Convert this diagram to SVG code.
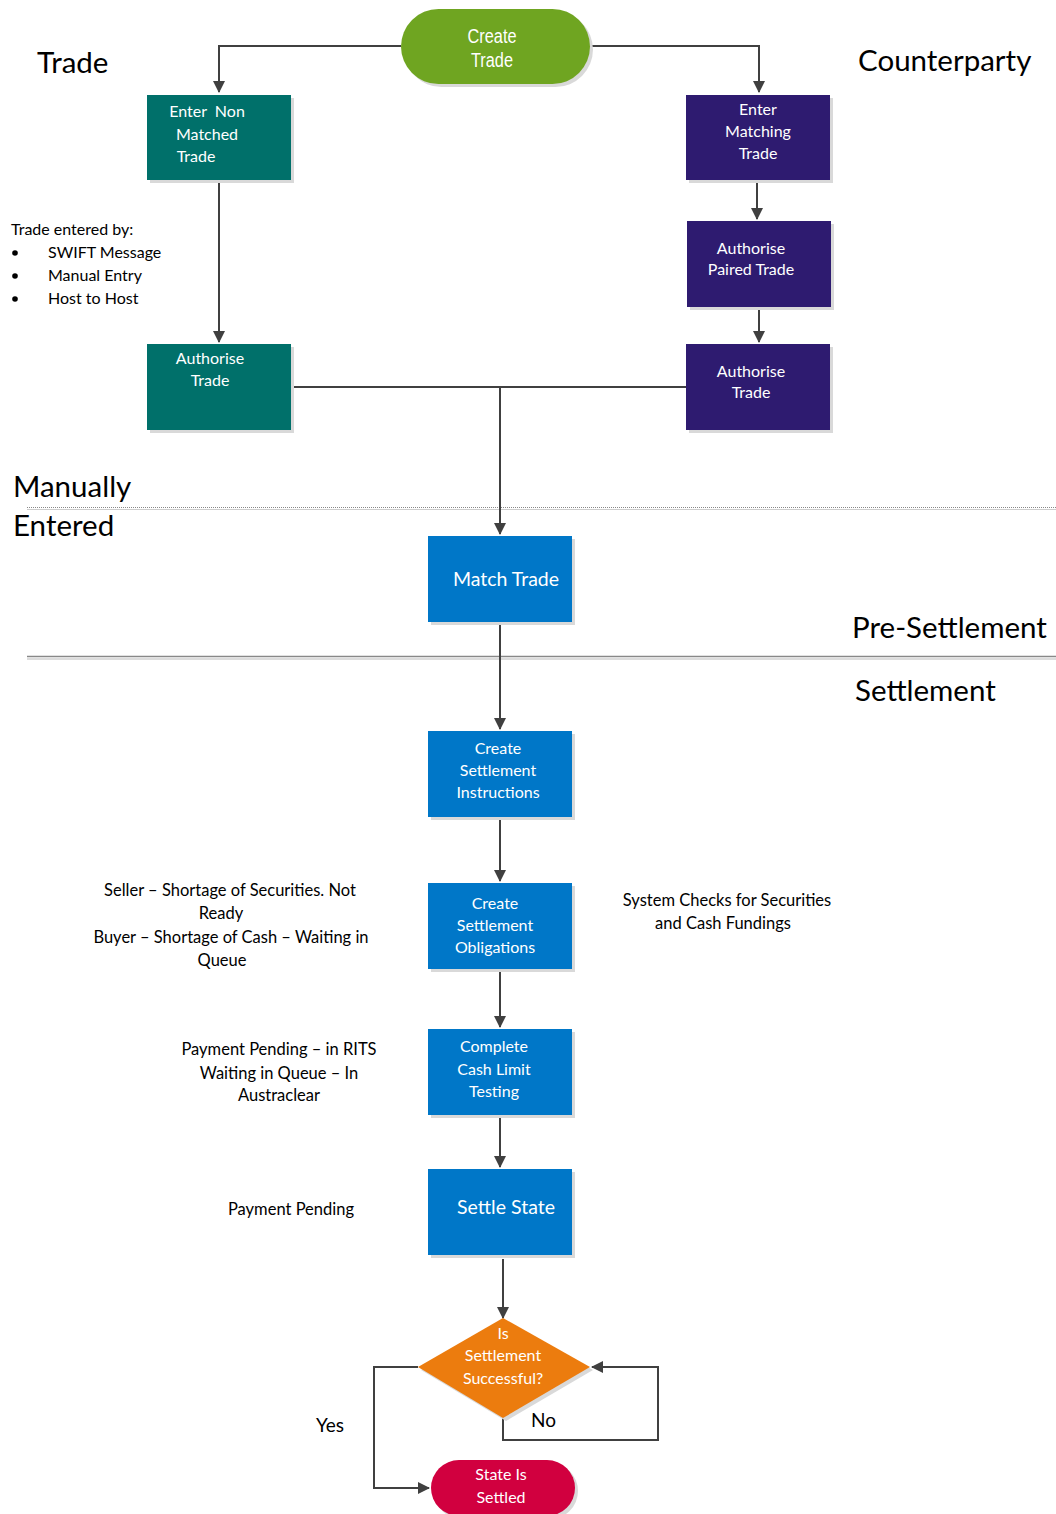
<svg xmlns="http://www.w3.org/2000/svg" width="1056" height="1514" viewBox="0 0 1056 1514">
<defs>
<style>
.lbl{font-family:Lato,"Open Sans","Liberation Sans",sans-serif;fill:#000;}
.w{font-family:Lato,"Open Sans","Liberation Sans",sans-serif;fill:#fff;font-size:16px;text-anchor:middle;}
.w18{font-size:19.5px;}
.ann{font-family:Lato,"Open Sans","Liberation Sans",sans-serif;fill:#000;font-size:16.5px;}
.list{font-size:16px;}
.yn{font-size:19px;}
.c{text-anchor:middle;}
.big{font-size:29.5px;}
.sh{fill:#d9d9d9;}
.teal{fill:#00706A;}
.purple{fill:#2E1B70;}
.blue{fill:#0077C8;}
.conn{fill:none;stroke:#404040;stroke-width:2;}
.ct{font-family:"Liberation Sans Narrow","Liberation Sans",sans-serif;font-size:20px;fill:#fff;text-anchor:middle;}
</style>
<marker id="ah" markerWidth="12" markerHeight="12" viewBox="0 0 12 12" refX="11" refY="6" orient="auto" markerUnits="userSpaceOnUse">
<path d="M0,0 L12,6 L0,12 Z" fill="#404040"/>
</marker>
</defs>
<rect width="1056" height="1514" fill="#fff"/>

<g id="separators">
<line x1="27" y1="507.5" x2="1056" y2="507.5" stroke="#888" stroke-width="1" stroke-dasharray="1,1"/>
<line x1="27" y1="509.5" x2="1056" y2="509.5" stroke="#ccc" stroke-width="1"/>
<line x1="27" y1="656.5" x2="1056" y2="656.5" stroke="#888" stroke-width="1.5"/>
<line x1="27" y1="659" x2="1056" y2="659" stroke="#d0d0d0" stroke-width="1.5"/>
</g>

<g id="section-labels">
<text class="lbl big" x="37" y="73">Trade</text>
<text class="lbl big" x="858" y="71">Counterparty</text>
<text class="lbl big" x="13" y="497">Manually</text>
<text class="lbl big" x="13" y="536">Entered</text>
<text class="lbl big" x="852" y="638">Pre-Settlement</text>
<text class="lbl big" x="855" y="701">Settlement</text>
</g>

<g id="connectors">
<path class="conn" d="M401,46 H219 V92" marker-end="url(#ah)"/>
<path class="conn" d="M590,46 H759 V92" marker-end="url(#ah)"/>
<path class="conn" d="M219,180 V342" marker-end="url(#ah)"/>
<path class="conn" d="M757,181 V219" marker-end="url(#ah)"/>
<path class="conn" d="M759,307 V342" marker-end="url(#ah)"/>
<path class="conn" d="M291,387 H686"/>
<path class="conn" d="M500,387 V534" marker-end="url(#ah)"/>
<path class="conn" d="M500,622 V729" marker-end="url(#ah)"/>
<path class="conn" d="M500,817 V881" marker-end="url(#ah)"/>
<path class="conn" d="M500,969 V1027" marker-end="url(#ah)"/>
<path class="conn" d="M500,1115 V1167" marker-end="url(#ah)"/>
<path class="conn" d="M503,1259 V1318" marker-end="url(#ah)"/>
<path class="conn" d="M503,1418 V1440 H658 V1367 H592" marker-end="url(#ah)"/>
<path class="conn" d="M418,1367 H374 V1488 H429" marker-end="url(#ah)"/>
</g>

<g id="create-trade">
<rect x="404" y="12" width="189" height="75" rx="37.5" class="sh"/>
<rect x="401" y="9" width="189" height="75" rx="37.5" fill="#6FA521"/>
<text class="ct" x="492" y="43" textLength="49" lengthAdjust="spacingAndGlyphs">Create</text>
<text class="ct" x="492" y="67" textLength="42" lengthAdjust="spacingAndGlyphs">Trade</text>
</g>

<g id="enter-non-matched">
<rect x="150" y="98" width="144" height="85" class="sh"/>
<rect x="147" y="95" width="144" height="85" class="teal"/>
<text class="w" x="207" y="117" xml:space="preserve">Enter  Non</text>
<text class="w" x="207" y="140">Matched</text>
<text class="w" x="196" y="162">Trade</text>
</g>

<g id="enter-matching">
<rect x="689" y="98" width="144" height="85" class="sh"/>
<rect x="686" y="95" width="144" height="85" class="purple"/>
<text class="w" x="758" y="115">Enter</text>
<text class="w" x="758" y="137">Matching</text>
<text class="w" x="758" y="159">Trade</text>
</g>

<g id="authorise-paired">
<rect x="690" y="224" width="144" height="86" class="sh"/>
<rect x="687" y="221" width="144" height="86" class="purple"/>
<text class="w" x="751" y="254">Authorise</text>
<text class="w" x="751" y="275">Paired Trade</text>
</g>

<g id="authorise-left">
<rect x="150" y="347" width="144" height="86" class="sh"/>
<rect x="147" y="344" width="144" height="86" class="teal"/>
<text class="w" x="210" y="364">Authorise</text>
<text class="w" x="210" y="386">Trade</text>
</g>

<g id="authorise-right">
<rect x="689" y="347" width="144" height="86" class="sh"/>
<rect x="686" y="344" width="144" height="86" class="purple"/>
<text class="w" x="751" y="377">Authorise</text>
<text class="w" x="751" y="398">Trade</text>
</g>

<g id="match-trade">
<rect x="431" y="539" width="144" height="86" class="sh"/>
<rect x="428" y="536" width="144" height="86" class="blue"/>
<text class="w w18" x="506" y="586">Match Trade</text>
</g>

<g id="create-instructions">
<rect x="431" y="734" width="144" height="86" class="sh"/>
<rect x="428" y="731" width="144" height="86" class="blue"/>
<text class="w" x="498" y="754">Create</text>
<text class="w" x="498" y="776">Settlement</text>
<text class="w" x="498" y="798">Instructions</text>
</g>

<g id="create-obligations">
<rect x="431" y="886" width="144" height="86" class="sh"/>
<rect x="428" y="883" width="144" height="86" class="blue"/>
<text class="w" x="495" y="909">Create</text>
<text class="w" x="495" y="931">Settlement</text>
<text class="w" x="495" y="953">Obligations</text>
</g>

<g id="cash-limit">
<rect x="431" y="1032" width="144" height="86" class="sh"/>
<rect x="428" y="1029" width="144" height="86" class="blue"/>
<text class="w" x="494" y="1052">Complete</text>
<text class="w" x="494" y="1075">Cash Limit</text>
<text class="w" x="494" y="1097">Testing</text>
</g>

<g id="settle-state">
<rect x="431" y="1172" width="144" height="86" class="sh"/>
<rect x="428" y="1169" width="144" height="86" class="blue"/>
<text class="w w18" x="506" y="1214">Settle State</text>
</g>

<g id="decision">
<polygon points="506,1321 593,1370 506,1421 421,1370" class="sh"/>
<polygon points="503,1318 590,1367 503,1418 418,1367" fill="#EC7C0E"/>
<text class="w" x="503" y="1339">Is</text>
<text class="w" x="503" y="1361">Settlement</text>
<text class="w" x="503" y="1384">Successful?</text>
</g>

<g id="state-settled">
<rect x="434" y="1463" width="144" height="56" rx="28" class="sh"/>
<rect x="431" y="1460" width="144" height="56" rx="28" fill="#D1003F"/>
<text class="w" x="501" y="1480">State Is</text>
<text class="w" x="501" y="1503">Settled</text>
</g>

<g id="annotations">
<text class="ann list" x="11" y="235">Trade entered by:</text>
<circle cx="15" cy="253" r="2.8" fill="#000"/>
<circle cx="15" cy="276" r="2.8" fill="#000"/>
<circle cx="15" cy="299" r="2.8" fill="#000"/>
<text class="ann list" x="48" y="258">SWIFT Message</text>
<text class="ann list" x="48" y="281">Manual Entry</text>
<text class="ann list" x="48" y="304">Host to Host</text>

<text class="ann c" x="230" y="896">Seller – Shortage of Securities. Not</text>
<text class="ann c" x="221" y="919">Ready</text>
<text class="ann c" x="231" y="943">Buyer – Shortage of Cash – Waiting in</text>
<text class="ann c" x="222" y="966">Queue</text>

<text class="ann c" x="727" y="906">System Checks for Securities</text>
<text class="ann c" x="723" y="929">and Cash Fundings</text>

<text class="ann c" x="279" y="1055">Payment Pending – in RITS</text>
<text class="ann c" x="279" y="1079">Waiting in Queue – In</text>
<text class="ann c" x="279" y="1101">Austraclear</text>

<text class="ann c" x="291" y="1215">Payment Pending</text>

<text class="ann yn" x="531" y="1427">No</text>
<text class="ann yn" x="316" y="1432">Yes</text>
</g>
</svg>
